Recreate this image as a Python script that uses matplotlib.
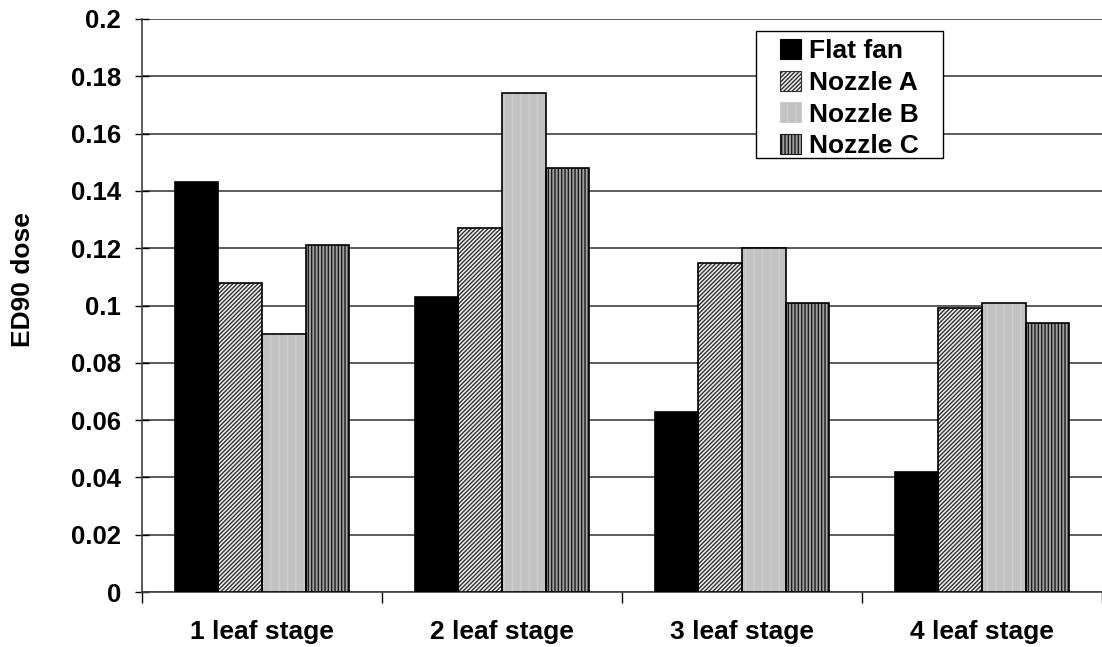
import matplotlib
matplotlib.use("Agg")
import matplotlib.pyplot as plt
import numpy as np
from matplotlib.patches import Patch, Rectangle

plt.rcParams['font.family'] = ['Liberation Sans', 'DejaVu Sans']
plt.rcParams['font.weight'] = 'bold'
plt.rcParams['hatch.linewidth'] = 1.0

stages = ["1 leaf stage", "2 leaf stage", "3 leaf stage", "4 leaf stage"]
series_names = ["Flat fan", "Nozzle A", "Nozzle B", "Nozzle C"]
flat_fan = [0.143, 0.103, 0.063, 0.042]
nozzle_a = [0.108, 0.127, 0.115, 0.099]
nozzle_b = [0.090, 0.174, 0.120, 0.101]
nozzle_c = [0.121, 0.148, 0.101, 0.094]
y_ticks = [0, 0.02, 0.04, 0.06, 0.08, 0.1, 0.12, 0.14, 0.16, 0.18, 0.2]
y_tick_labels = ["0", "0.02", "0.04", "0.06", "0.08", "0.1", "0.12", "0.14", "0.16", "0.18", "0.2"]

# fill colour, hatch pattern, hatch colour for each series
styles = [
    ("black", None, None),
    ("#f0f0f0", "////////", "#303030"),
    ("#c2c2c2", "||", "#cdcdcd"),
    ("#a0a0a0", "|||||", "#1a1a1a"),
]

W, H = 1102, 647
fig = plt.figure(figsize=(W / 100, H / 100), dpi=100)
left, right, bottom, top = 142, 1102, 592, 19
ax = fig.add_axes([left / W, (H - bottom) / H, (right - left) / W, (bottom - top) / H])

bar_w = 0.182
x = np.arange(len(stages)) + 0.5
all_series = [flat_fan, nozzle_a, nozzle_b, nozzle_c]
for k, (vals, (fc, hatch, hc)) in enumerate(zip(all_series, styles)):
    xs = x + (k - 1.5) * bar_w
    ax.bar(xs, vals, width=bar_w, color=fc, edgecolor="none", linewidth=0, zorder=3)
    if hatch:
        ax.bar(xs, vals, width=bar_w, color="none", edgecolor=hc, hatch=hatch,
               linewidth=0, zorder=4)
    ax.bar(xs, vals, width=bar_w, color="none", edgecolor="black", linewidth=1.2, zorder=5)

ax.set_xlim(0, (right - left) / 242)
ax.set_ylim(0, 0.2)
ax.set_yticks(y_ticks)
ax.set_yticklabels(y_tick_labels, fontsize=18.5, fontweight='bold')
ax.yaxis.grid(True, color="#404040", linewidth=1.2, zorder=0)
ax.tick_params(axis='y', direction='inout', length=10, width=1, pad=10)

ax.set_xticks(np.arange(0, 5))
ax.set_xticklabels([])
ax.set_xticks(x, minor=True)
ax.set_xticklabels(stages, minor=True, fontsize=19, fontweight='bold')
ax.tick_params(axis='x', which='major', direction='out', length=8, width=1)
ax.tick_params(axis='x', which='minor', length=0, pad=20)

for s in ['top', 'right']:
    ax.spines[s].set_visible(False)
for s in ['left', 'bottom']:
    ax.spines[s].set_color('#404040')
    ax.spines[s].set_linewidth(1.2)

fig.text(23 / W, 1 - 280 / H, "ED90 dose", rotation=90, fontsize=19,
         fontweight='bold', ha='center', va='center')

# legend box drawn separately so its padding can be wider on the left
box = Rectangle((756 / W, 1 - 158 / H), (943 - 756) / W, (158 - 31) / H,
                transform=fig.transFigure, facecolor="white", edgecolor="black",
                linewidth=1.0, zorder=9)
fig.add_artist(box)

handles = []
for name, (fc, hatch, hc) in zip(series_names, styles):
    handles.append(Patch(facecolor=fc, edgecolor=hc if hatch else "black",
                         hatch=hatch, linewidth=0.8, label=name))
leg = fig.legend(handles=handles, loc='upper left',
                 bbox_to_anchor=(780 / W, 1 - 39 / H),
                 fontsize=19, frameon=False, handlelength=0.8,
                 handleheight=0.8, handletextpad=0.3, borderpad=0.0, labelspacing=0.28,
                 borderaxespad=0)
leg.set_zorder(10)
for t in leg.get_texts():
    t.set_fontweight('bold')

fig.savefig("out.png", dpi=100)
